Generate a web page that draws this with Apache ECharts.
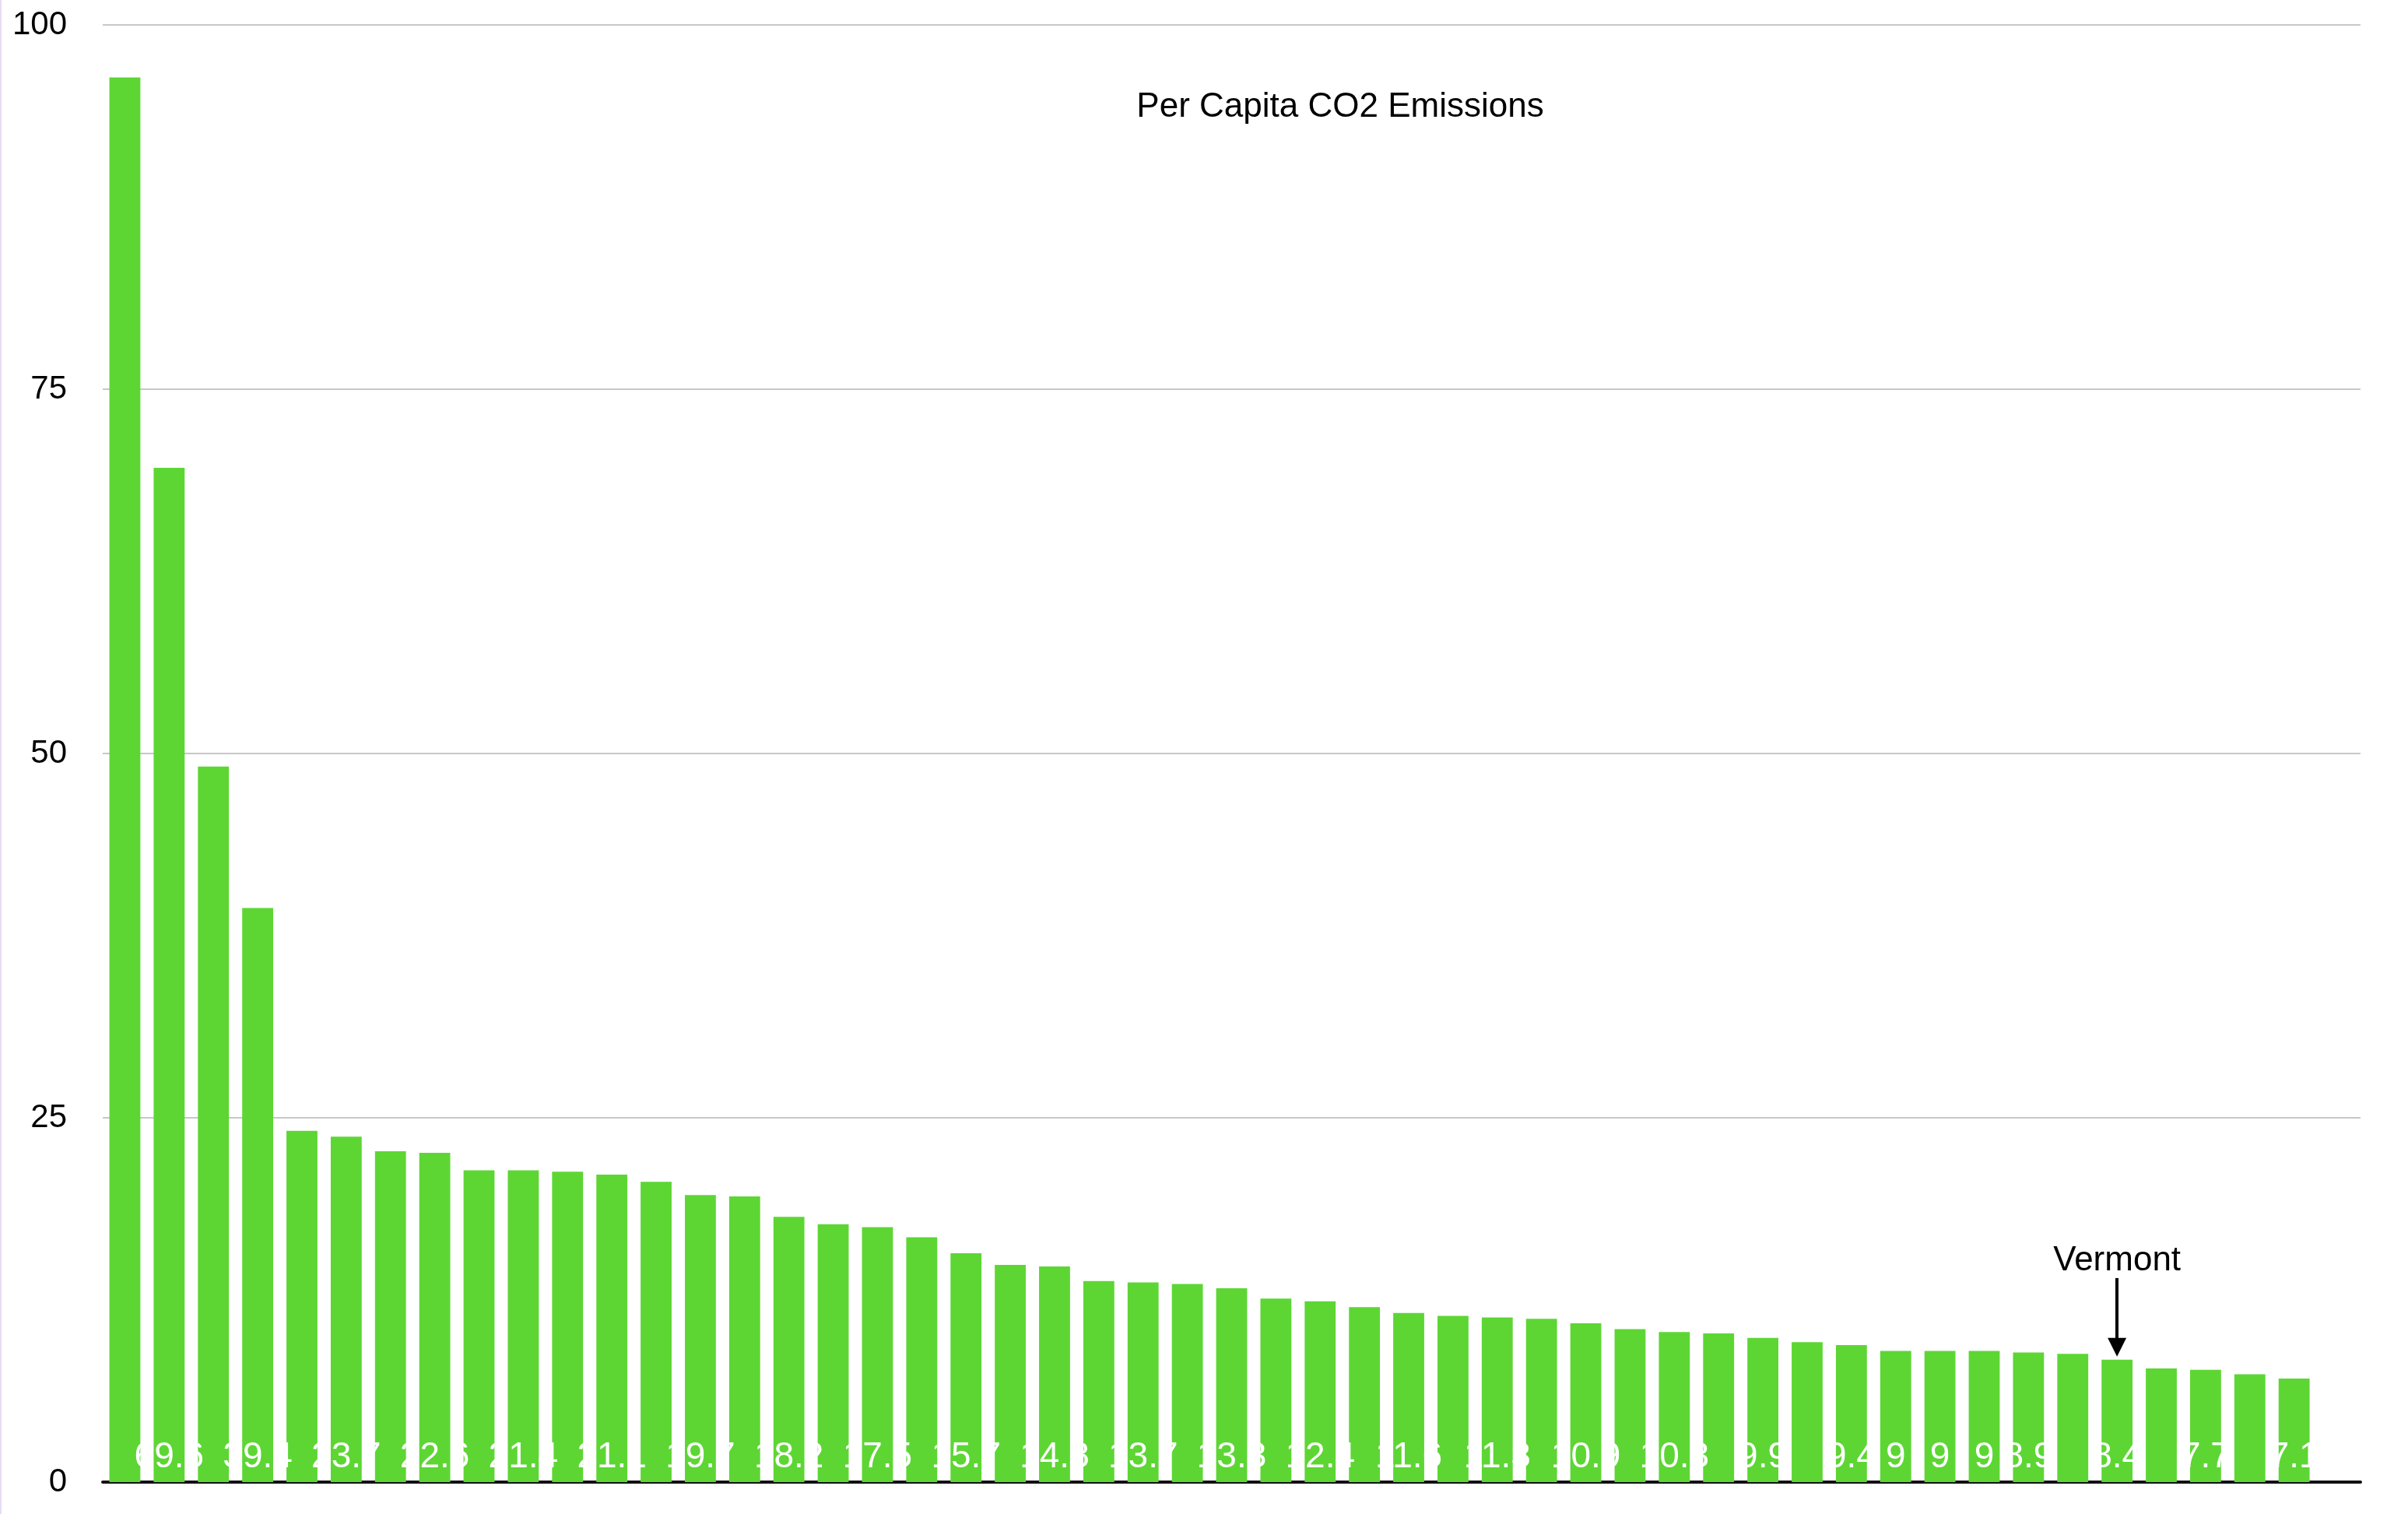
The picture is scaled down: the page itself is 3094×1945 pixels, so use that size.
<!DOCTYPE html>
<html>
<head>
<meta charset="utf-8">
<script src="https://cdn.jsdelivr.net/npm/echarts@6/dist/echarts.min.js"></script>
<style>
  html, body { margin: 0; padding: 0; background: #ffffff; }
  #chart { width: 3094px; height: 1945px; }
</style>
</head>
<body>
<div id="chart"></div>
<script>
// ---- data ----
const states = [
  'Wyoming', 'North Dakota', 'West Virginia', 'Alaska', 'Louisiana', 'Montana', 'Kentucky', 'Indiana',
  'Nebraska', 'Iowa', 'Oklahoma', 'Texas', 'Kansas', 'Utah', 'New Mexico', 'Alabama', 'Arkansas',
  'Missouri', 'Mississippi', 'Ohio', 'South Dakota', 'Pennsylvania', 'Illinois', 'Minnesota',
  'Wisconsin', 'Colorado', 'Michigan', 'Tennessee', 'Delaware', 'Nevada', 'Hawaii', 'South Carolina',
  'North Carolina', 'Georgia', 'Virginia', 'Arizona', 'Maine', 'New Jersey', 'Florida',
  'New Hampshire', 'Maryland', 'Washington', 'Connecticut', 'Idaho', 'Oregon', 'Vermont',
  'Rhode Island', 'Massachusetts', 'California', 'New York', ''
];
const emissions = [
  96.4, 69.6, 49.1, 39.4, 24.1, 23.7, 22.7, 22.6, 21.4, 21.4,
  21.3, 21.1, 20.6, 19.7, 19.6, 18.2, 17.7, 17.5, 16.8, 15.7,
  14.9, 14.8, 13.8, 13.7, 13.6, 13.3, 12.6, 12.4, 12.0, 11.6,
  11.4, 11.3, 11.2, 10.9, 10.5, 10.3, 10.2, 9.9, 9.6, 9.4,
  9, 9, 9, 8.9, 8.8, 8.4, 7.8, 7.7, 7.4, 7.1, null
];
const yTicks = [0, 25, 50, 75, 100];
const chartTitle = 'Per Capita CO2 Emissions';
const highlightState = 'Vermont';
const arrowFrom = 14.0;   // value where the annotation arrow starts
const arrowTo = 9.25;     // value where the arrowhead centre sits

const FONT = '"Liberation Sans", Arial, Helvetica, sans-serif';
const GREEN = '#5DD634';
const LABEL_SIZE = 46;

const chart = echarts.init(document.getElementById('chart'), null, { renderer: 'canvas' });

function buildData(showFlags) {
  return emissions.map((v, i) => ({
    value: v,
    label: { show: showFlags ? showFlags[i] : false }
  }));
}

const hlIndex = states.indexOf(highlightState);

const option = {
  animation: false,
  backgroundColor: '#ffffff',
  grid: { left: 132, right: 61, top: 32, bottom: 41, containLabel: false },
  graphic: [
    {
      type: 'rect',
      shape: { x: 0, y: 0, width: 2, height: 1945 },
      style: { fill: '#e6dcf6' },
      silent: true
    },
    {
      type: 'text',
      x: 1722,
      y: 138,
      style: {
        text: chartTitle,
        fill: '#000',
        font: '44px ' + FONT,
        align: 'center',
        verticalAlign: 'middle'
      },
      silent: true
    }
  ],
  xAxis: {
    type: 'category',
    data: states,
    axisTick: { show: false },
    axisLabel: { show: false },
    axisLine: { show: true, lineStyle: { color: '#111', width: 4 } },
    splitLine: { show: false }
  },
  yAxis: {
    type: 'value',
    min: yTicks[0],
    max: yTicks[yTicks.length - 1],
    interval: yTicks[1] - yTicks[0],
    axisLine: { show: false },
    axisTick: { show: false },
    axisLabel: {
      color: '#000',
      fontSize: 42,
      fontFamily: FONT,
      margin: 46
    },
    splitLine: { show: true, lineStyle: { color: '#c8c8c8', width: 2 } }
  },
  series: [{
    type: 'bar',
    data: buildData(null),
    barCategoryGap: '30%',
    itemStyle: { color: GREEN },
    label: {
      show: true,
      position: 'insideBottom',
      distance: 9,
      color: '#ffffff',
      fontSize: LABEL_SIZE,
      fontFamily: FONT,
      formatter: (p) => String(p.value)
    },
    markLine: {
      silent: true,
      symbol: ['none', 'triangle'],
      symbolSize: [24, 24],
      lineStyle: { color: '#000', width: 4, type: 'solid' },
      label: {
        show: true,
        position: 'start',
        distance: 0,
        formatter: highlightState,
        color: '#000',
        fontSize: 44,
        fontFamily: FONT
      },
      data: [[
        { coord: [hlIndex, arrowFrom] },
        { coord: [hlIndex, arrowTo] }
      ]]
    }
  }]
};

chart.setOption(option);

// Hide overlapping value labels greedily from right to left (as the reference does)
const ctx = document.createElement('canvas').getContext('2d');
ctx.font = LABEL_SIZE + 'px ' + FONT;
const showFlags = emissions.map(() => false);
let lastLeft = Infinity;
for (let i = emissions.length - 1; i >= 0; i--) {
  if (emissions[i] == null) continue;
  const cx = chart.convertToPixel({ xAxisIndex: 0 }, i);
  const w = ctx.measureText(String(emissions[i])).width;
  if (cx + w / 2 <= lastLeft) {
    showFlags[i] = true;
    lastLeft = cx - w / 2;
  }
}
chart.setOption({ series: [{ data: buildData(showFlags) }] });
</script>
</body>
</html>
